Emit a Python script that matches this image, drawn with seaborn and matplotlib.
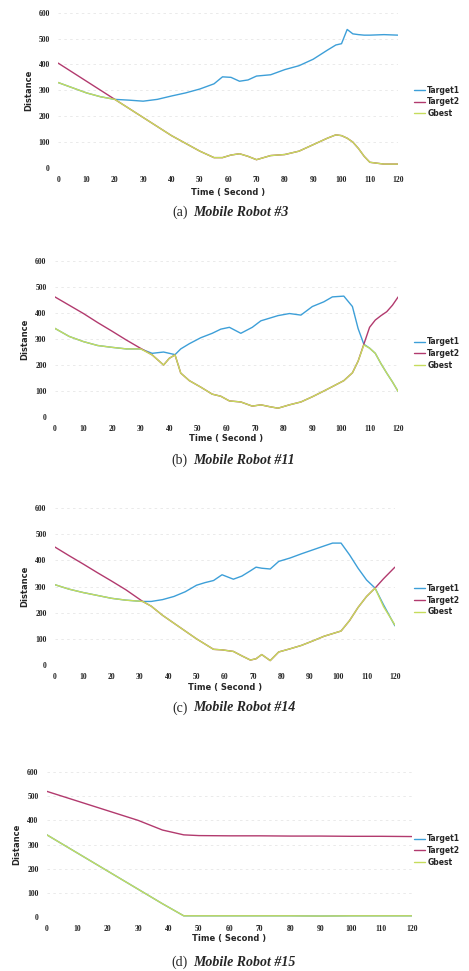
import numpy as np
import pandas as pd
import matplotlib
matplotlib.use('Agg')
import matplotlib.pyplot as plt
import seaborn as sns

# ---- data ----
# (a) Mobile Robot #3
t_a = [0, 5, 10, 15, 20, 25, 30, 35, 40, 45, 50, 55, 58, 61, 64, 67, 70, 75, 80, 85, 90, 95, 98, 100, 102, 104, 106, 108, 110, 115, 120]
a_target1 = [330, 310, 290, 275, 265, 262, 258, 265, 278, 290, 305, 325, 352, 350, 335, 340, 355, 360, 380, 395, 420, 455, 475, 480, 535, 518, 515, 513, 513, 515, 513]
a_target2 = [405, 370, 335, 300, 265, 230, 195, 160, 125, 95, 65, 40, 40, 50, 55, 45, 32, 48, 52, 65, 90, 115, 128, 125, 115, 100, 75, 45, 22, 15, 15]
a_gbest = [330, 310, 290, 275, 265, 230, 195, 160, 125, 95, 65, 40, 40, 50, 55, 45, 32, 48, 52, 65, 90, 115, 128, 125, 115, 100, 75, 45, 22, 15, 15]

# (b) Mobile Robot #11
t_b = [0, 5, 10, 15, 20, 25, 30, 34, 38, 40, 42, 44, 47, 51, 55, 58, 61, 65, 69, 72, 75, 78, 82, 86, 90, 94, 97, 101, 104, 106, 108, 110, 112, 114, 116, 118, 120]
b_target1 = [341, 310, 290, 275, 268, 262, 262, 245, 250, 245, 240, 262, 282, 305, 322, 338, 345, 322, 345, 370, 380, 390, 398, 392, 425, 443, 462, 465, 425, 340, 280, 265, 245, 205, 169, 135, 98]
b_target2 = [462, 430, 398, 363, 330, 296, 264, 239, 200, 226, 239, 169, 140, 115, 88, 80, 62, 58, 42, 47, 40, 34, 47, 58, 78, 100, 117, 140, 170, 215, 280, 345, 373, 390, 405, 430, 462]
b_gbest = [341, 310, 290, 275, 268, 262, 262, 239, 200, 226, 239, 169, 140, 115, 88, 80, 62, 58, 42, 47, 40, 34, 47, 58, 78, 100, 117, 140, 170, 215, 277, 265, 245, 205, 169, 135, 98]

# (c) Mobile Robot #14
t_c = [0, 5, 10, 15, 20, 25, 31, 34, 38, 42, 46, 50, 53, 56, 59, 63, 66, 69, 71, 73, 76, 79, 83, 87, 91, 95, 98, 101, 104, 107, 110, 113, 116, 120]
c_target1 = [307, 290, 277, 266, 255, 248, 243, 243, 250, 262, 280, 305, 315, 323, 345, 328, 340, 360, 374, 370, 367, 396, 409, 425, 440, 455, 466, 466, 421, 370, 325, 294, 230, 150]
c_target2 = [451, 418, 386, 353, 321, 288, 243, 225, 190, 160, 130, 100, 80, 60, 58, 52, 35, 19, 24, 40, 17, 50, 62, 75, 92, 110, 120, 130, 170, 220, 262, 294, 330, 374]
c_gbest = [307, 290, 277, 266, 255, 248, 243, 225, 190, 160, 130, 100, 80, 60, 58, 52, 35, 19, 24, 40, 17, 50, 62, 75, 92, 110, 120, 130, 170, 220, 262, 294, 223, 153]

# (d) Mobile Robot #15
t_d = [0, 10, 20, 30, 38, 45, 50, 60, 70, 80, 90, 100, 110, 120]
d_target1 = [340, 265, 190, 115, 55, 5, 5, 5, 5, 5, 4, 5, 5, 5]
d_target2 = [520, 480, 440, 400, 360, 340, 337, 336, 336, 335, 335, 334, 334, 333]
d_gbest = [340, 265, 190, 115, 55, 5, 5, 5, 5, 5, 4, 5, 5, 5]

panels = [
    ('(a)', 'Mobile Robot #3', t_a, a_target1, a_target2, a_gbest),
    ('(b)', 'Mobile Robot #11', t_b, b_target1, b_target2, b_gbest),
    ('(c)', 'Mobile Robot #14', t_c, c_target1, c_target2, c_gbest),
    ('(d)', 'Mobile Robot #15', t_d, d_target1, d_target2, d_gbest),
]
series_names = ['Target1', 'Target2', 'Gbest']
colors = {'Target1': '#3d9fd8', 'Target2': '#b23a6e', 'Gbest': '#c6dc5c'}
y_ticks = [0, 100, 200, 300, 400, 500, 600]
x_ticks = list(range(0, 121, 10))

# axes boxes [left, bottom, width, height] in figure fraction
boxes = [
    [0.124, 0.827, 0.725, 0.160],
    [0.117, 0.5705, 0.732, 0.1607],
    [0.117, 0.3151, 0.725, 0.1617],
    [0.100, 0.0556, 0.778, 0.1493],
]
legend_y = [0.895, 0.636, 0.382, 0.124]
xlabel_y = [0.802, 0.548, 0.292, 0.033]
caption_y = [0.781, 0.526, 0.271, 0.009]

sns.set_theme(style='white')
plt.rcParams['font.family'] = ['DejaVu Sans']

fig = plt.figure(figsize=(4.69, 9.71), dpi=100)

for i, (tag, title, t, s1, s2, s3) in enumerate(panels):
    df = pd.DataFrame({
        'time': list(t) * 3,
        'value': list(s1) + list(s2) + list(s3),
        'series': [n for n in series_names for _ in t],
    })
    ax = fig.add_axes(boxes[i])
    sns.lineplot(data=df, x='time', y='value', hue='series', hue_order=series_names,
                 palette=colors, linewidth=1.0, ax=ax, legend=True)
    ax.set_xlim(0, 120)
    ax.set_ylim(0, 600)
    ax.set_xticks(x_ticks)
    ax.set_yticks(y_ticks)
    ax.tick_params(axis='both', length=0, labelsize=5.5, pad=6)
    for lab in ax.get_xticklabels() + ax.get_yticklabels():
        lab.set_fontweight('bold')
        lab.set_family('Liberation Serif')
        lab.set_color('#222222')
    for s in ax.spines.values():
        s.set_visible(False)
    ax.yaxis.grid(True, color='#e6e6e6', linewidth=0.6, linestyle=(0, (3, 4)))
    ax.set_axisbelow(True)
    ax.set_xlabel('')
    ax.set_ylabel('Distance', fontsize=6, fontweight='bold', labelpad=4)
    fig.text(boxes[i][0] + boxes[i][2] / 2, xlabel_y[i], 'Time ( Second )',
             ha='center', va='center', fontsize=6, fontweight='bold')
    handles, labels = ax.get_legend_handles_labels()
    ax.legend(handles, labels, loc='center left', bbox_to_anchor=(0.875, legend_y[i]),
              bbox_transform=fig.transFigure, frameon=False,
              handlelength=1.4, handletextpad=0.3, labelspacing=0.35, borderpad=0,
              prop={'weight': 'bold', 'size': 5.5})
    fig.text(0.40, caption_y[i], tag, ha='right', va='center', fontsize=10,
             family='Liberation Serif')
    fig.text(0.412, caption_y[i], title, ha='left', va='center', fontsize=10,
             family='Liberation Serif', fontweight='bold', fontstyle='italic')

fig.savefig('out.png', dpi=100)
